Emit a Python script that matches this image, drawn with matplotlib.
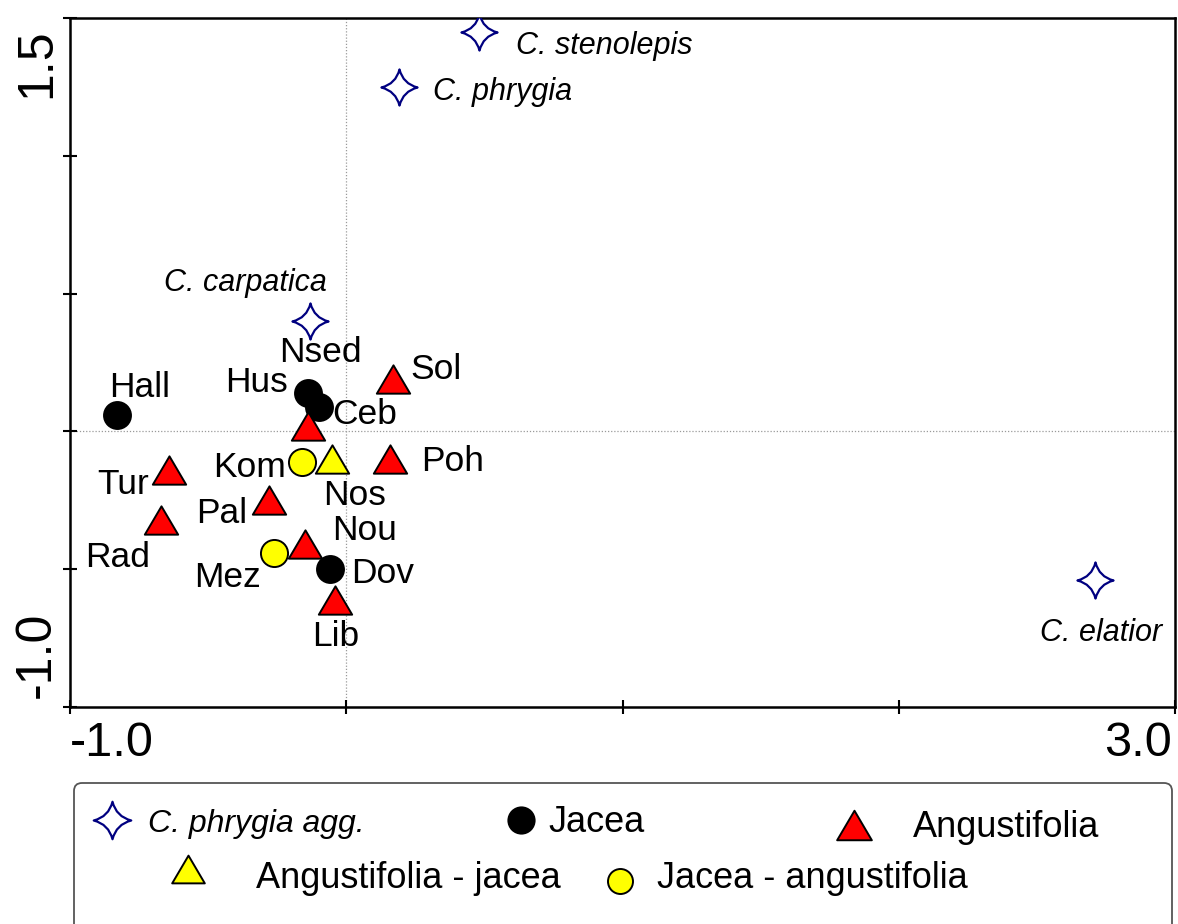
import matplotlib
matplotlib.use("Agg")
import matplotlib.pyplot as plt
from matplotlib.path import Path
from matplotlib.patches import FancyBboxPatch
from matplotlib.lines import Line2D

plt.rcParams["font.family"] = ["Liberation Sans", "DejaVu Sans"]

# ordination scores
species_names = ["C. stenolepis", "C. phrygia", "C. carpatica", "C. elatior"]
species_x = [0.48, 0.19, -0.13, 2.71]
species_y = [1.45, 1.25, 0.40, -0.54]

jacea_names = ["Hall", "Hus", "Ceb", "Dov"]
jacea_x = [-0.83, -0.14, -0.10, -0.06]
jacea_y = [0.06, 0.14, 0.09, -0.50]

angust_names = ["Nsed", "Sol", "Poh", "Tur", "Pal", "Rad", "Nou", "Lib"]
angust_x = [-0.14, 0.17, 0.16, -0.64, -0.28, -0.67, -0.15, -0.04]
angust_y = [0.02, 0.19, -0.10, -0.14, -0.25, -0.32, -0.41, -0.61]

aj_names = ["Nos"]
aj_x = [-0.05]
aj_y = [-0.10]

ja_names = ["Kom", "Mez"]
ja_x = [-0.16, -0.26]
ja_y = [-0.11, -0.44]

group_labels = ["C. phrygia agg.", "Jacea", "Angustifolia",
                "Angustifolia - jacea", "Jacea - angustifolia"]

x_ticks = [-1, 0, 1, 2, 3]
y_ticks = [-1.0, -0.5, 0.0, 0.5, 1.0, 1.5]

# label placement: offset in pixels from the point (dx, dy up), alignment
label_pos = {
    "C. stenolepis": (37, -22, "left"),
    "C. phrygia": (34, -13, "left"),
    "C. carpatica": (-65, 30, "center"),
    "C. elatior": (6, -61, "center"),
    "Hall": (23, 18, "center"),
    "Nsed": (13, 64, "center"),
    "Hus": (-20, 1, "right"),
    "Ceb": (14, -17, "left"),
    "Sol": (17, 0, "left"),
    "Kom": (-16, -15, "right"),
    "Nos": (22, -46, "center"),
    "Poh": (31, -12, "left"),
    "Tur": (-20, -24, "right"),
    "Pal": (-22, -23, "right"),
    "Nou": (27, 4, "left"),
    "Rad": (-44, -47, "center"),
    "Mez": (-14, -34, "right"),
    "Dov": (21, -14, "left"),
    "Lib": (0, -46, "center"),
}


def star_path():
    c = 0.2
    verts = [(1, 0), (c, c), (0, 1), (-c, c), (-1, 0), (-c, -c), (0, -1),
             (c, -c), (1, 0), (1, 0)]
    codes = [Path.MOVETO] + [Path.CURVE3] * 8 + [Path.CLOSEPOLY]
    return Path(verts, codes)


def tri_path():
    verts = [(0, 0.85), (-1, -0.85), (1, -0.85), (0, 0.85)]
    codes = [Path.MOVETO, Path.LINETO, Path.LINETO, Path.CLOSEPOLY]
    return Path(verts, codes)


STAR = star_path()
TRI = tri_path()
NAVY = "#000080"

styles = {
    "star": dict(marker=STAR, ms=26, mfc="white", mec=NAVY, mew=1.6),
    "jacea": dict(marker="o", ms=19.5, mfc="black", mec="black", mew=1.3),
    "angust": dict(marker=TRI, ms=24, mfc="#ff0000", mec="black", mew=1.4),
    "aj": dict(marker=TRI, ms=24, mfc="#ffff00", mec="black", mew=1.4),
    "ja": dict(marker="o", ms=19.5, mfc="#ffff00", mec="black", mew=1.4),
}

fig = plt.figure(figsize=(11.78, 9.24), dpi=100)
ax = fig.add_axes([70 / 1178, 1 - 707 / 924, 1105 / 1178, 689 / 924])
ax.set_xlim(-1.0, 3.0)
ax.set_ylim(-1.0, 1.5)

ax.axhline(0, color="#9a9a9a", lw=0.9, ls=(0, (1, 1.5)), zorder=1)
ax.axvline(0, color="#9a9a9a", lw=0.9, ls=(0, (1, 1.5)), zorder=1)

groups = [
    (species_x, species_y, species_names, "star", 22, "italic"),
    (jacea_x, jacea_y, jacea_names, "jacea", 25.5, "normal"),
    (angust_x, angust_y, angust_names, "angust", 25.5, "normal"),
    (aj_x, aj_y, aj_names, "aj", 25.5, "normal"),
    (ja_x, ja_y, ja_names, "ja", 25.5, "normal"),
]

for z, (xs, ys, names, key, fs, style) in enumerate(groups):
    ax.plot(xs, ys, ls="none", zorder=3 + z, **styles[key])
    for x, y, name in zip(xs, ys, names):
        dx, dy, ha = label_pos[name]
        ax.annotate(name, (x, y), xytext=(dx, dy), textcoords="offset pixels",
                    ha=ha, va="baseline", fontsize=fs, style=style, zorder=10)

for sp in ax.spines.values():
    sp.set_linewidth(1.8)
ax.set_xticks(x_ticks)
ax.set_yticks(y_ticks)
ax.set_xticklabels([])
ax.set_yticklabels([])
ax.tick_params(direction="inout", length=10, width=1.5)

# end tick labels only
ax.annotate("-1.0", (x_ticks[0], 0), xycoords=("data", "axes fraction"),
            xytext=(0, -14), textcoords="offset pixels", ha="left", va="top",
            fontsize=35)
ax.annotate("3.0", (x_ticks[-1], 0), xycoords=("data", "axes fraction"),
            xytext=(-3, -14), textcoords="offset pixels", ha="right", va="top",
            fontsize=35)
ax.annotate("1.5", (0, y_ticks[-1]), xycoords=("axes fraction", "data"),
            xytext=(-10, -10), textcoords="offset pixels", ha="right", va="top",
            rotation=90, fontsize=36)
ax.annotate("-1.0", (0, y_ticks[0]), xycoords=("axes fraction", "data"),
            xytext=(-10, 9), textcoords="offset pixels", ha="right", va="bottom",
            rotation=90, fontsize=36)

# legend box drawn by hand (pixel layout)
lax = fig.add_axes([0, 0, 1, 1])
lax.set_xlim(0, 1178)
lax.set_ylim(924, 0)
lax.axis("off")
lax.add_patch(FancyBboxPatch((74, 783), 1098, 200,
                             boxstyle="round,pad=0,rounding_size=8",
                             fc="white", ec="#555555", lw=1.3))

legend_layout = [
    ("star", 112, 820, 148, 832, 23, "italic", dict(ms=27)),
    ("jacea", 521, 820, 548, 832, 26, "normal", dict(ms=19)),
    ("angust", 854, 825, 913, 837, 26, "normal", dict(ms=25)),
    ("aj", 188, 869, 256, 888, 26, "normal", dict(ms=23.5)),
    ("ja", 620, 881, 657, 888, 26, "normal", dict(ms=18)),
]
for (key, mx, my, tx, ty, fs, style, extra), label in zip(legend_layout, group_labels):
    st = dict(styles[key])
    st.update(extra)
    lax.add_line(Line2D([mx], [my], ls="none", **st))
    lax.text(tx, ty, label, ha="left", va="baseline", fontsize=fs, style=style)

fig.savefig("out.png", dpi=100)
